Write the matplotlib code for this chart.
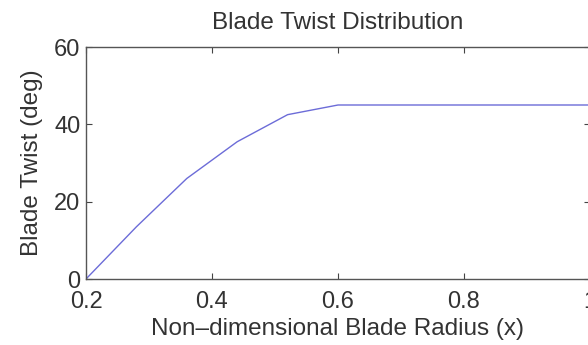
import numpy as np
import matplotlib
matplotlib.use('Agg')
import matplotlib.pyplot as plt

# blade twist data
radius = [0.2, 0.28, 0.36, 0.44, 0.52, 0.6, 0.7, 0.8, 0.9, 1.0]
twist = [0.0, 13.5, 26.0, 35.5, 42.5, 45.0, 45.0, 45.0, 45.0, 45.0]

xticks = [0.2, 0.4, 0.6, 0.8, 1.0]
xticklabels = ['0.2', '0.4', '0.6', '0.8', '1']
yticks = [0, 20, 40, 60]

plt.rcParams['font.family'] = ['Liberation Sans', 'DejaVu Sans']

fig = plt.figure(figsize=(5.88, 3.45), dpi=100)
ax = fig.add_axes([86/588, 1 - 279/345, (590 - 86)/588, (279 - 47)/345])

ax.plot(radius, twist, color='#6c6cd8', linewidth=1.0)

ax.set_xlim(0.2, 1.0)
ax.set_ylim(0, 60)
ax.set_xticks(xticks)
ax.set_xticklabels(xticklabels)
ax.set_yticks(yticks)
ax.tick_params(direction='in', top=True, right=True, length=4, width=0.8,
               colors='#444444', labelsize=17, labelcolor='#333333')
ax.tick_params(axis='x', pad=9)
ax.tick_params(axis='y', pad=4)
for s in ax.spines.values():
    s.set_color('#555555')
    s.set_linewidth(1.0)

ax.set_title('Blade Twist Distribution', fontsize=17.5, color='#333333', pad=13)
ax.set_xlabel('Non\u2013dimensional Blade Radius (x)', fontsize=17.5, color='#333333', labelpad=3)
ax.set_ylabel('Blade Twist (deg)', fontsize=17.5, color='#333333', labelpad=8)

fig.savefig('out.png', dpi=100)
